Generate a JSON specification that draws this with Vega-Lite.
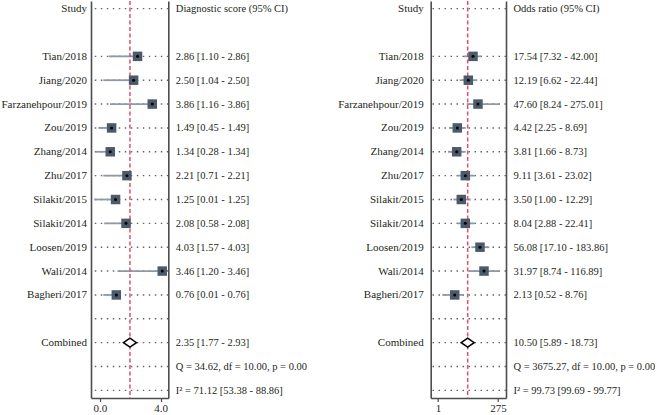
{
  "$schema": "https://vega.github.io/schema/vega-lite/v6.json",
  "bounds": "flush",
  "padding": {"left": 0, "top": 0, "right": 0, "bottom": 0},
  "spacing": 261.7,
  "config": {
    "font": "Liberation Serif",
    "view": {"stroke": null},
    "scale": {"pointPadding": 0.32},
    "axis": {
      "labelFont": "Liberation Serif",
      "labelFontSize": 11,
      "labelColor": "#231f20",
      "domainColor": "#4d4d4d",
      "domainWidth": 1.6,
      "tickColor": "#4d4d4d",
      "tickWidth": 1.2,
      "grid": false,
      "title": null
    }
  },
  "datasets": {
    "left": [
      {"row": 0, "study": "Study", "ci": "Diagnostic score (95% CI)", "kind": "header"},
      {"row": 1, "study": " ", "ci": " ", "kind": "gap"},
      {"row": 2, "study": "Tian/2018", "ci": "2.86 [1.10 - 2.86]", "kind": "study", "est": 2.48, "lo": 0.59, "hi": 2.48},
      {"row": 3, "study": "Jiang/2020", "ci": "2.50 [1.04 - 2.50]", "kind": "study", "est": 2.22, "lo": 0.22, "hi": 2.22},
      {"row": 4, "study": "Farzanehpour/2019", "ci": "3.86 [1.16 - 3.86]", "kind": "study", "est": 3.45, "lo": 0.66, "hi": 3.45},
      {"row": 5, "study": "Zou/2019", "ci": "1.49 [0.45 - 1.49]", "kind": "study", "est": 0.77, "lo": -0.11, "hi": 0.77},
      {"row": 6, "study": "Zhang/2014", "ci": "1.34 [0.28 - 1.34]", "kind": "study", "est": 0.68, "lo": -0.29, "hi": 0.68},
      {"row": 7, "study": "Zhu/2017", "ci": "2.21 [0.71 - 2.21]", "kind": "study", "est": 1.78, "lo": 0.22, "hi": 1.78},
      {"row": 8, "study": "Silakit/2015", "ci": "1.25 [0.01 - 1.25]", "kind": "study", "est": 1.03, "lo": -0.38, "hi": 1.03},
      {"row": 9, "study": "Silakit/2014", "ci": "2.08 [0.58 - 2.08]", "kind": "study", "est": 1.72, "lo": 0.28, "hi": 1.72},
      {"row": 10, "study": "Loosen/2019", "ci": "4.03 [1.57 - 4.03]", "kind": "study", "est": null, "lo": null, "hi": null},
      {"row": 11, "study": "Wali/2014", "ci": "3.46 [1.20 - 3.46]", "kind": "study", "est": 4.11, "lo": 1.16, "hi": 4.11},
      {"row": 12, "study": "Bagheri/2017", "ci": "0.76 [0.01 - 0.76]", "kind": "study", "est": 1.08, "lo": 0.22, "hi": 1.08},
      {"row": 13, "study": "  ", "ci": "  ", "kind": "spacer"},
      {"row": 14, "study": "Combined", "ci": "2.35 [1.77 - 2.93]", "kind": "combined", "est": 1.98, "lo": 1.56, "hi": 2.40},
      {"row": 15, "study": "   ", "ci": "Q = 34.62, df = 10.00, p = 0.00", "kind": "stat"},
      {"row": 16, "study": "    ", "ci": "I² = 71.12 [53.38 - 88.86]", "kind": "stat"}
    ],
    "right": [
      {"row": 0, "study": "Study", "ci": "Odds ratio (95% CI)", "kind": "header"},
      {"row": 1, "study": " ", "ci": " ", "kind": "gap"},
      {"row": 2, "study": "Tian/2018", "ci": "17.54 [7.32 - 42.00]", "kind": "study", "est": 26.5, "lo": 11.4, "hi": 57.6},
      {"row": 3, "study": "Jiang/2020", "ci": "12.19 [6.62 - 22.44]", "kind": "study", "est": 17.1, "lo": 7.63, "hi": 39.6},
      {"row": 4, "study": "Farzanehpour/2019", "ci": "47.60 [8.24 - 275.01]", "kind": "study", "est": 42.3, "lo": 14.7, "hi": 332},
      {"row": 5, "study": "Zou/2019", "ci": "4.42 [2.25 - 8.69]", "kind": "study", "est": 6.09, "lo": 2.8, "hi": 13.4},
      {"row": 6, "study": "Zhang/2014", "ci": "3.81 [1.66 - 8.73]", "kind": "study", "est": 5.76, "lo": 2.55, "hi": 13.4},
      {"row": 7, "study": "Zhu/2017", "ci": "9.11 [3.61 - 23.02]", "kind": "study", "est": 12.9, "lo": 6.09, "hi": 31.1},
      {"row": 8, "study": "Silakit/2015", "ci": "3.50 [1.00 - 12.29]", "kind": "study", "est": 8.86, "lo": 4.19, "hi": 21.4},
      {"row": 9, "study": "Silakit/2014", "ci": "8.04 [2.88 - 22.41]", "kind": "study", "est": 12.9, "lo": 6.09, "hi": 31.1},
      {"row": 10, "study": "Loosen/2019", "ci": "56.08 [17.10 - 183.86]", "kind": "study", "est": 51.0, "lo": 22.6, "hi": 122},
      {"row": 11, "study": "Wali/2014", "ci": "31.97 [8.74 - 116.89]", "kind": "study", "est": 74.2, "lo": 19.5, "hi": 332},
      {"row": 12, "study": "Bagheri/2017", "ci": "2.13 [0.52 - 8.76]", "kind": "study", "est": 4.78, "lo": 1.5, "hi": 10.7},
      {"row": 13, "study": "  ", "ci": "  ", "kind": "spacer"},
      {"row": 14, "study": "Combined", "ci": "10.50 [5.89 - 18.73]", "kind": "combined", "est": 16.1, "lo": 8.86, "hi": 29.1},
      {"row": 15, "study": "   ", "ci": "Q = 3675.27, df = 10.00, p = 0.00", "kind": "stat"},
      {"row": 16, "study": "    ", "ci": "I² = 99.73 [99.69 - 99.77]", "kind": "stat"}
    ]
  },
  "hconcat": [
    {
      "width": 77.3,
      "height": 397,
      "data": {"name": "left"},
      "resolve": {"scale": {"y": "independent"}},
      "layer": [
        {
          "layer": [
            {
              "mark": {"type": "point", "opacity": 0},
              "encoding": {
                "y": {"field": "study", "type": "nominal", "sort": {"field": "row", "op": "min"}, "scale": {"type": "point", "padding": 0.32},
                  "axis": {"orient": "left", "ticks": false, "labelPadding": 4.5, "domain": true}}
              }
            },
            {
              "transform": [{"filter": "datum.kind !== 'gap'"}],
              "mark": {"type": "rule", "strokeDash": [1.5, 4.5], "strokeWidth": 1.4, "color": "#666666"},
              "encoding": {
                "y": {"field": "study", "type": "nominal", "sort": {"field": "row", "op": "min"}, "scale": {"type": "point", "padding": 0.32}}
              }
            },
            {
              "transform": [{"filter": "datum.kind === 'study' && datum.est != null"}],
              "mark": {"type": "rule", "strokeWidth": 1.8, "color": "#8d9aa5"},
              "encoding": {
                "y": {"field": "study", "type": "nominal", "sort": {"field": "row", "op": "min"}, "scale": {"type": "point", "padding": 0.32}},
                "x": {"field": "lo", "type": "quantitative"},
                "x2": {"field": "hi"}
              }
            },
            {
              "data": {"values": [{"ref": 1.98}]},
              "mark": {"type": "rule", "strokeDash": [4, 2.5], "strokeWidth": 1.5, "color": "#d9536a"},
              "encoding": {
                "x": {"field": "ref", "type": "quantitative", "scale": {"domain": [-0.59, 4.51], "nice": false, "zero": false},
                  "axis": {"values": [0, 4], "format": ".1f", "tickSize": 3.5, "labelPadding": 1}}
              }
            },
            {
              "transform": [{"filter": "datum.kind === 'study' && datum.est != null"}],
              "mark": {"type": "point", "shape": "square", "filled": true, "size": 90, "color": "#4b5b6b", "opacity": 1},
              "encoding": {
                "y": {"field": "study", "type": "nominal", "sort": {"field": "row", "op": "min"}, "scale": {"type": "point", "padding": 0.32}},
                "x": {"field": "est", "type": "quantitative"}
              }
            },
            {
              "transform": [{"filter": "datum.kind === 'study' && datum.est != null"}],
              "mark": {"type": "point", "shape": "circle", "filled": true, "size": 9, "color": "#000000", "opacity": 1},
              "encoding": {
                "y": {"field": "study", "type": "nominal", "sort": {"field": "row", "op": "min"}, "scale": {"type": "point", "padding": 0.32}},
                "x": {"field": "est", "type": "quantitative"}
              }
            },
            {
              "transform": [{"filter": "datum.kind === 'combined'"}],
              "mark": {"type": "point", "shape": "M-1,0L0,-0.7L1,0L0,0.7Z", "filled": true, "fill": "#ffffff", "stroke": "#000000", "strokeWidth": 1.5, "size": 169, "opacity": 1},
              "encoding": {
                "y": {"field": "study", "type": "nominal", "sort": {"field": "row", "op": "min"}, "scale": {"type": "point", "padding": 0.32}},
                "x": {"field": "est", "type": "quantitative"}
              }
            }
          ]
        },
        {
          "mark": {"type": "point", "opacity": 0},
          "encoding": {
            "y": {"field": "ci", "type": "nominal", "sort": {"field": "row", "op": "min"}, "scale": {"type": "point", "padding": 0.32},
              "axis": {"orient": "right", "ticks": false, "labelPadding": 7, "labelLimit": 400, "labelFontSize": 10.5, "domain": true}}
          }
        }
      ]
    },
    {
      "width": 75.3,
      "height": 397,
      "data": {"name": "right"},
      "resolve": {"scale": {"y": "independent"}},
      "layer": [
        {
          "layer": [
            {
              "mark": {"type": "point", "opacity": 0},
              "encoding": {
                "y": {"field": "study", "type": "nominal", "sort": {"field": "row", "op": "min"}, "scale": {"type": "point", "padding": 0.32},
                  "axis": {"orient": "left", "ticks": false, "labelPadding": 7.5, "domain": true}}
              }
            },
            {
              "transform": [{"filter": "datum.kind !== 'gap'"}],
              "mark": {"type": "rule", "strokeDash": [1.5, 4.5], "strokeWidth": 1.4, "color": "#666666"},
              "encoding": {
                "y": {"field": "study", "type": "nominal", "sort": {"field": "row", "op": "min"}, "scale": {"type": "point", "padding": 0.32}}
              }
            },
            {
              "transform": [{"filter": "datum.kind === 'study' && datum.est != null"}],
              "mark": {"type": "rule", "strokeWidth": 1.8, "color": "#8d9aa5"},
              "encoding": {
                "y": {"field": "study", "type": "nominal", "sort": {"field": "row", "op": "min"}, "scale": {"type": "point", "padding": 0.32}},
                "x": {"field": "lo", "type": "quantitative"},
                "x2": {"field": "hi"}
              }
            },
            {
              "data": {"values": [{"ref": 16.1}]},
              "mark": {"type": "rule", "strokeDash": [4, 2.5], "strokeWidth": 1.5, "color": "#d9536a"},
              "encoding": {
                "x": {"field": "ref", "type": "quantitative", "scale": {"type": "log", "domain": [0.505, 582], "nice": false, "zero": false},
                  "axis": {"values": [1, 275], "format": "d", "tickSize": 3.5, "labelPadding": 1}}
              }
            },
            {
              "transform": [{"filter": "datum.kind === 'study' && datum.est != null"}],
              "mark": {"type": "point", "shape": "square", "filled": true, "size": 90, "color": "#4b5b6b", "opacity": 1},
              "encoding": {
                "y": {"field": "study", "type": "nominal", "sort": {"field": "row", "op": "min"}, "scale": {"type": "point", "padding": 0.32}},
                "x": {"field": "est", "type": "quantitative"}
              }
            },
            {
              "transform": [{"filter": "datum.kind === 'study' && datum.est != null"}],
              "mark": {"type": "point", "shape": "circle", "filled": true, "size": 9, "color": "#000000", "opacity": 1},
              "encoding": {
                "y": {"field": "study", "type": "nominal", "sort": {"field": "row", "op": "min"}, "scale": {"type": "point", "padding": 0.32}},
                "x": {"field": "est", "type": "quantitative"}
              }
            },
            {
              "transform": [{"filter": "datum.kind === 'combined'"}],
              "mark": {"type": "point", "shape": "M-1,0L0,-0.7L1,0L0,0.7Z", "filled": true, "fill": "#ffffff", "stroke": "#000000", "strokeWidth": 1.5, "size": 169, "opacity": 1},
              "encoding": {
                "y": {"field": "study", "type": "nominal", "sort": {"field": "row", "op": "min"}, "scale": {"type": "point", "padding": 0.32}},
                "x": {"field": "est", "type": "quantitative"}
              }
            }
          ]
        },
        {
          "mark": {"type": "point", "opacity": 0},
          "encoding": {
            "y": {"field": "ci", "type": "nominal", "sort": {"field": "row", "op": "min"}, "scale": {"type": "point", "padding": 0.32},
              "axis": {"orient": "right", "ticks": false, "labelPadding": 7, "labelLimit": 400, "labelFontSize": 10.5, "domain": true}}
          }
        }
      ]
    }
  ]
}
